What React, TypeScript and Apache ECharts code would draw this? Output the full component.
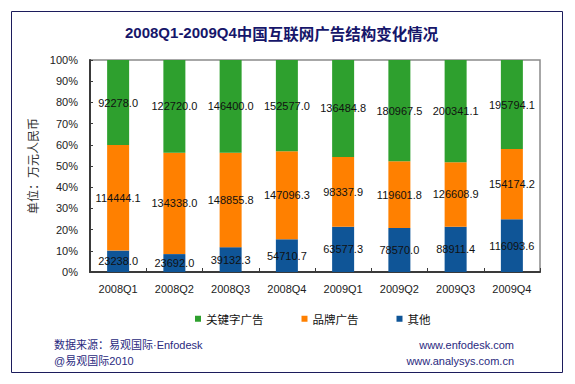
import React, { useEffect, useRef } from "react";
import * as echarts from "echarts";

const categories = ["2008Q1", "2008Q2", "2008Q3", "2008Q4", "2009Q1", "2009Q2", "2009Q3", "2009Q4"];
const keywordAds = [92278.0, 122720.0, 146400.0, 152577.0, 136484.8, 180967.5, 200341.1, 195794.1];
const brandAds = [114444.1, 134338.0, 148855.8, 147096.3, 98337.9, 119601.8, 126608.9, 154174.2];
const otherAds = [23238.0, 23692.0, 39132.3, 54710.7, 63577.3, 78570.0, 88911.4, 116093.6];
const seriesNames = ["关键字广告", "品牌广告", "其他"];
const yTicks = [0, 10, 20, 30, 40, 50, 60, 70, 80, 90, 100];

const totals = categories.map((_, i) => keywordAds[i] + brandAds[i] + otherAds[i]);
const toItems = (arr: number[]) =>
  arr.map((v, i) => ({ value: (v / totals[i]) * 100, raw: v }));

const NAVY = "#16166a";
const LATIN = "Arial, 'Liberation Sans', 'Noto Sans CJK SC', sans-serif";

export default function App() {
  const ref = useRef<HTMLDivElement>(null);
  useEffect(() => {
    document.body.style.margin = "0";
    if (!ref.current) return;
    const chart = echarts.init(ref.current, null, { renderer: "svg" });
    const label = {
      show: true,
      position: "inside" as const,
      color: "#111",
      fontSize: 11,
      fontFamily: LATIN,
      formatter: (p: any) => p.data.raw.toFixed(1),
    };
    chart.setOption({
      animation: false,
      backgroundColor: "#fff",
      title: {
        text: "{a|2008Q1-2009Q4}{b|中国互联网广告结构变化情况}",
        left: 125,
        top: 25,
        padding: 0,
        textStyle: {
          rich: {
            a: { fontSize: 15, fontWeight: "bold", color: NAVY, fontFamily: LATIN },
            b: { fontSize: 15.5, fontWeight: "bold", color: NAVY, fontFamily: "'Noto Sans CJK SC', sans-serif" },
          },
        },
      },
      legend: {
        data: seriesNames,
        left: 195,
        top: 313,
        padding: 0,
        icon: "rect",
        itemWidth: 6,
        itemHeight: 6,
        itemGap: 38,
        textStyle: { fontSize: 11.5, color: "#111", fontFamily: "'Noto Sans CJK SC', sans-serif" },
      },
      grid: {
        left: 90,
        right: 35,
        top: 60,
        bottom: 112,
        show: true,
        borderColor: "#8a8a8a",
        borderWidth: 1.5,
      },
      xAxis: {
        type: "category",
        data: categories,
        axisLine: { lineStyle: { color: "#3a3a3a", width: 2 } },
        axisTick: { show: true, inside: true, length: 4, lineStyle: { color: "#3a3a3a" } },
        axisLabel: { color: "#222", fontSize: 11, margin: 11, fontFamily: LATIN },
      },
      yAxis: {
        type: "value",
        min: yTicks[0],
        max: yTicks[yTicks.length - 1],
        interval: 10,
        name: "单位：万元人民币",
        nameLocation: "middle",
        nameGap: 49,
        nameTextStyle: { fontSize: 12, color: "#333", fontFamily: "'Noto Sans CJK SC', serif" },
        splitLine: { show: false },
        axisLine: { show: true, lineStyle: { color: "#3a3a3a", width: 2 } },
        axisTick: { show: true, inside: true, length: 3, lineStyle: { color: "#3a3a3a" } },
        axisLabel: { color: "#222", fontSize: 11, margin: 12, formatter: "{value}%", fontFamily: LATIN },
      },
      series: [
        {
          name: seriesNames[2],
          type: "bar",
          stack: "total",
          barWidth: 22,
          itemStyle: { color: "#0f5597" },
          label,
          data: toItems(otherAds),
        },
        {
          name: seriesNames[1],
          type: "bar",
          stack: "total",
          barWidth: 22,
          itemStyle: { color: "#ff8000" },
          label,
          data: toItems(brandAds),
        },
        {
          name: seriesNames[0],
          type: "bar",
          stack: "total",
          barWidth: 22,
          itemStyle: { color: "#2ea02e" },
          label,
          data: toItems(keywordAds),
        },
      ],
      graphic: [
        {
          type: "rect",
          shape: { x: 11.5, y: 11.5, width: 551, height: 361 },
          style: { fill: "none", stroke: "#1c1c5c", lineWidth: 1 },
          silent: true,
        },
        {
          type: "text",
          x: 54,
          y: 345,
          style: { text: "数据来源：易观国际·Enfodesk", fontSize: 11, fill: "#2a2a80", fontFamily: LATIN, verticalAlign: "middle" },
        },
        {
          type: "text",
          x: 54,
          y: 361,
          style: { text: "@易观国际2010", fontSize: 11, fill: "#2a2a80", fontFamily: LATIN, verticalAlign: "middle" },
        },
        {
          type: "text",
          x: 514,
          y: 345,
          style: { text: "www.enfodesk.com", fontSize: 11, fill: "#2a2a80", fontFamily: LATIN, align: "right", verticalAlign: "middle" },
        },
        {
          type: "text",
          x: 514,
          y: 361,
          style: { text: "www.analysys.com.cn", fontSize: 11, fill: "#2a2a80", fontFamily: LATIN, align: "right", verticalAlign: "middle" },
        },
      ],
    });
    return () => chart.dispose();
  }, []);
  return <div ref={ref} style={{ width: 575, height: 384 }} />;
}
